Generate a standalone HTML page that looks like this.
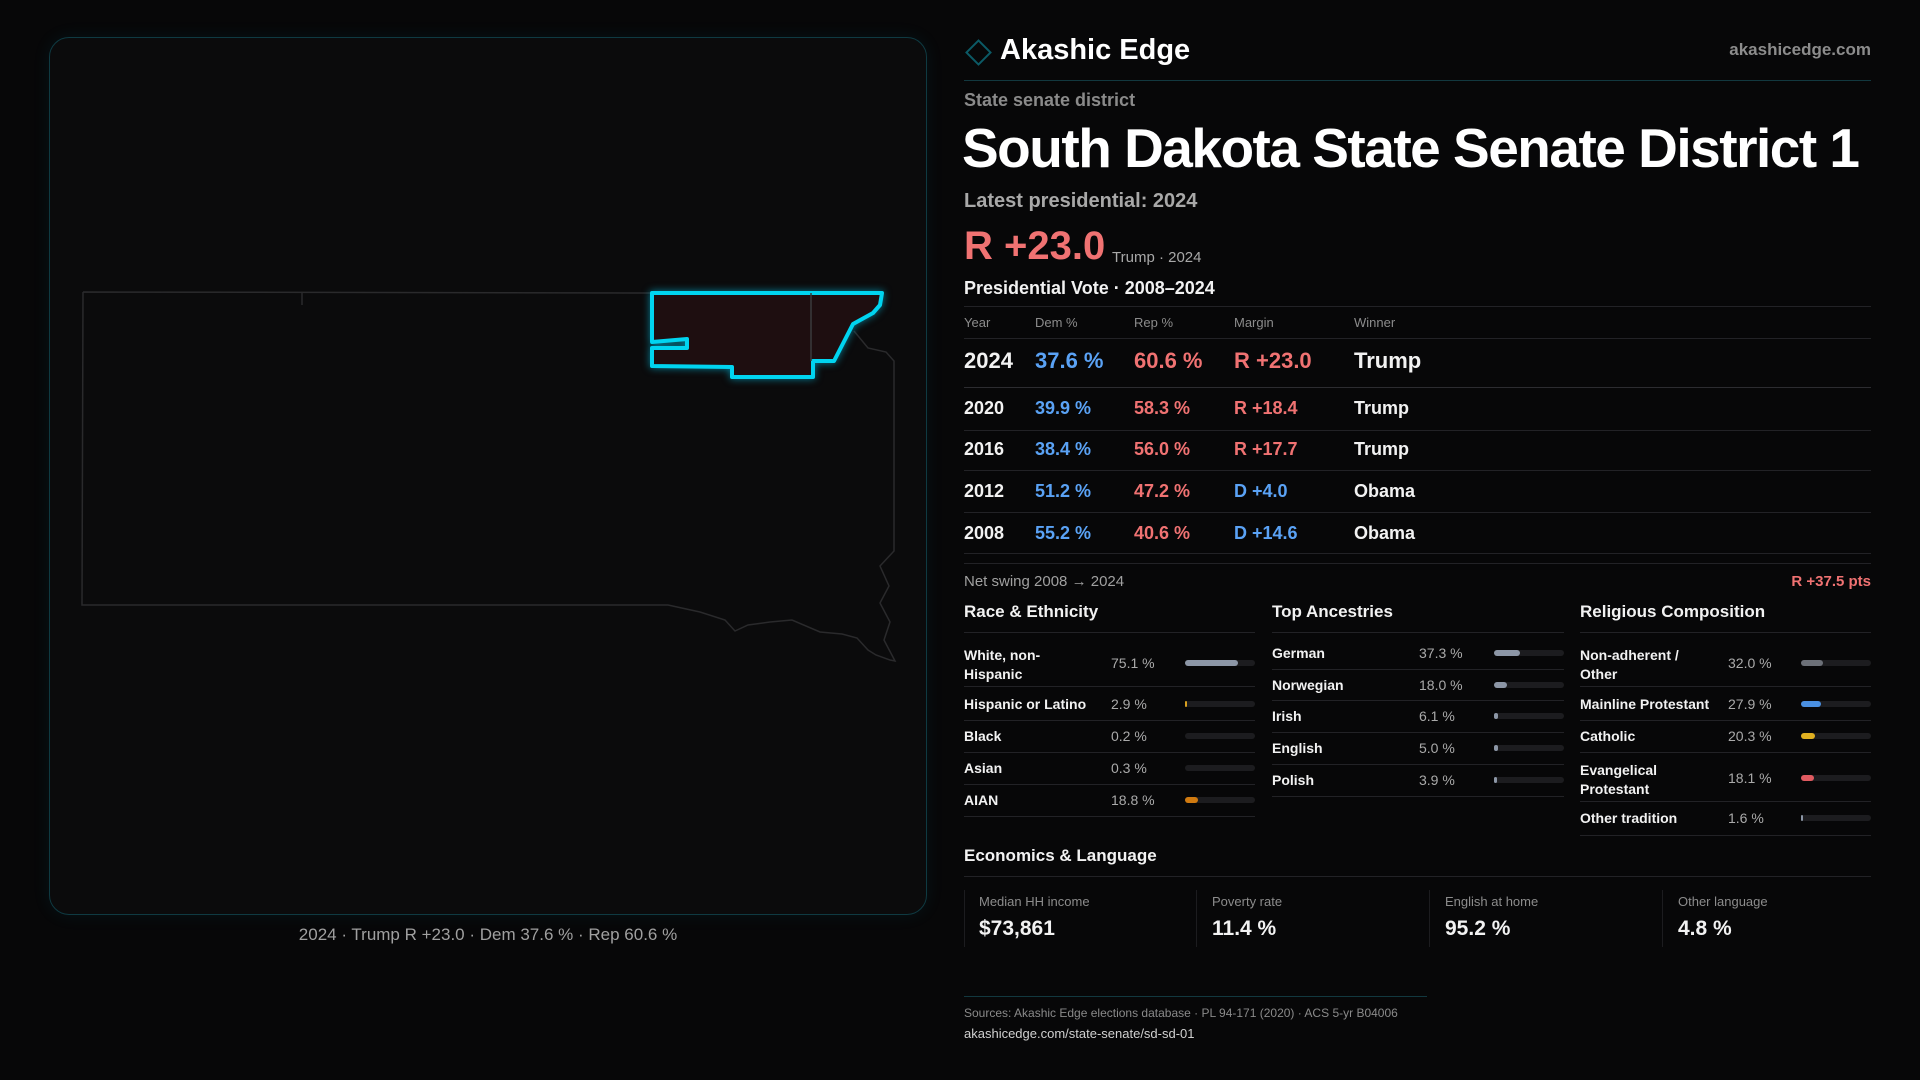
<!DOCTYPE html>
<html><head><meta charset="utf-8">
<style>
*{margin:0;padding:0;box-sizing:border-box}
body{width:1920px;height:1080px;background:#070708;font-family:"Liberation Sans",sans-serif;color:#f2f2f2;position:relative;overflow:hidden}
.t{position:absolute;white-space:nowrap;line-height:1}
.g{color:#8c8c8c}
.b{font-weight:bold}
.red{color:#f07272}
.blue{color:#5aa2f5}
.hl{position:absolute;height:1px;background:#222226}
.bar{position:absolute;height:6px;border-radius:3px;background:#1c1c1f}
.bar i{display:block;height:6px;border-radius:3px}
</style></head><body>
<div style="position:absolute;left:49px;top:37px;width:878px;height:878px;border:1px solid #0f3a42;border-radius:20px;background:#0b0b0c;box-shadow:0 0 18px rgba(0,180,220,0.08)"></div>
<svg style="position:absolute;left:0;top:0" width="960" height="940">
<path d="M83,292 L652,293 M302,293 L302,305 M83,292 L82,605 L668,605 L700,612 L725,620 L735,631 L748,625 L770,622 L792,620 L820,632 L842,634 L857,638 L868,650 L876,655 L890,660 L895,661 L884,640 L890,622 L880,603 L889,586 L880,566 L894,551 L894,361 L886,352 L868,348 L854,331" fill="none" stroke="#2a2a2c" stroke-width="1.5"/>
<path d="M652,293 L882,293 L880,305 L873,313 L853,324 L834,361 L813,361 L813,377 L732,377 L732,367 L652,366 L652,348 L687,348 L687,339 L652,342 Z" fill="#1e0e10" stroke="#00d4f0" stroke-width="4" stroke-linejoin="round" style="filter:drop-shadow(0 0 4px rgba(0,200,240,0.6))"/>
<path d="M811,293 L811,361" stroke="#3a3a3c" stroke-width="1.5"/>
</svg>
<div class="t g" style="left:0;width:976px;text-align:center;top:926px;font-size:17px;color:#a0a0a0">2024 · Trump R +23.0 · Dem 37.6 % · Rep 60.6 %</div>

<div style="position:absolute;left:969px;top:43px;width:19px;height:19px;border:2px solid #0c5a66;transform:rotate(45deg)"></div>
<div class="t b" style="left:1000px;top:36px;font-size:29px;color:#fff">Akashic Edge</div>
<div class="t g b" style="right:49px;top:41px;font-size:17px">akashicedge.com</div>
<div class="hl" style="left:964px;width:907px;top:80px;background:#12383f"></div>
<div class="t g b" style="left:964px;top:91px;font-size:18px;color:#8a8a8a">State senate district</div>
<div class="t b" style="left:962px;top:121px;font-size:55px;color:#fff;letter-spacing:-1.5px">South Dakota State Senate District 1</div>
<div class="t b" style="left:964px;top:191px;font-size:20px;color:#a8a8a8">Latest presidential: 2024</div>
<div class="t b red" style="left:964px;top:226px;font-size:40px">R +23.0</div>
<div class="t" style="left:1112px;top:250px;font-size:15px;color:#a8a8a8">Trump · 2024</div>
<div class="t b" style="left:964px;top:279px;font-size:18px">Presidential Vote · 2008–2024</div>
<div class="hl" style="left:964px;width:907px;top:306px"></div>
<div class="t g" style="left:964px;top:316px;font-size:13px">Year</div>
<div class="t g" style="left:1035px;top:316px;font-size:13px">Dem %</div>
<div class="t g" style="left:1134px;top:316px;font-size:13px">Rep %</div>
<div class="t g" style="left:1234px;top:316px;font-size:13px">Margin</div>
<div class="t g" style="left:1354px;top:316px;font-size:13px">Winner</div>
<div class="hl" style="left:964px;width:907px;top:338px"></div>
<div class="t b" style="left:964px;top:350px;font-size:22px">2024</div>
<div class="t b blue" style="left:1035px;top:350px;font-size:22px">37.6 %</div>
<div class="t b red" style="left:1134px;top:350px;font-size:22px">60.6 %</div>
<div class="t b red" style="left:1234px;top:350px;font-size:22px">R +23.0</div>
<div class="t b" style="left:1354px;top:350px;font-size:22px">Trump</div>
<div class="hl" style="left:964px;width:907px;top:387px;background:#2c2c30"></div>
<div class="t b" style="left:964px;top:399px;font-size:18px">2020</div>
<div class="t b blue" style="left:1035px;top:399px;font-size:18px">39.9 %</div>
<div class="t b red" style="left:1134px;top:399px;font-size:18px">58.3 %</div>
<div class="t b red" style="left:1234px;top:399px;font-size:18px">R +18.4</div>
<div class="t b" style="left:1354px;top:399px;font-size:18px">Trump</div>
<div class="hl" style="left:964px;width:907px;top:430px"></div>
<div class="t b" style="left:964px;top:440px;font-size:18px">2016</div>
<div class="t b blue" style="left:1035px;top:440px;font-size:18px">38.4 %</div>
<div class="t b red" style="left:1134px;top:440px;font-size:18px">56.0 %</div>
<div class="t b red" style="left:1234px;top:440px;font-size:18px">R +17.7</div>
<div class="t b" style="left:1354px;top:440px;font-size:18px">Trump</div>
<div class="hl" style="left:964px;width:907px;top:470px"></div>
<div class="t b" style="left:964px;top:482px;font-size:18px">2012</div>
<div class="t b blue" style="left:1035px;top:482px;font-size:18px">51.2 %</div>
<div class="t b red" style="left:1134px;top:482px;font-size:18px">47.2 %</div>
<div class="t b blue" style="left:1234px;top:482px;font-size:18px">D +4.0</div>
<div class="t b" style="left:1354px;top:482px;font-size:18px">Obama</div>
<div class="hl" style="left:964px;width:907px;top:512px"></div>
<div class="t b" style="left:964px;top:524px;font-size:18px">2008</div>
<div class="t b blue" style="left:1035px;top:524px;font-size:18px">55.2 %</div>
<div class="t b red" style="left:1134px;top:524px;font-size:18px">40.6 %</div>
<div class="t b blue" style="left:1234px;top:524px;font-size:18px">D +14.6</div>
<div class="t b" style="left:1354px;top:524px;font-size:18px">Obama</div>
<div class="hl" style="left:964px;width:907px;top:553px"></div>
<div class="hl" style="left:964px;width:907px;top:563px"></div>
<div class="t" style="left:964px;top:574px;font-size:15px;color:#a0a0a0">Net swing 2008 → 2024</div>
<div class="t b red" style="right:49px;top:574px;font-size:15px">R +37.5 pts</div>

<div class="t b" style="left:964px;top:603px;font-size:17px">Race &amp; Ethnicity</div>
<div class="t b" style="left:1272px;top:603px;font-size:17px">Top Ancestries</div>
<div class="t b" style="left:1580px;top:603px;font-size:17px">Religious Composition</div>
<div class="hl" style="left:964px;width:291px;top:632px"></div>
<div class="hl" style="left:1272px;width:292px;top:632px"></div>
<div class="hl" style="left:1580px;width:291px;top:632px"></div>

<!-- Race -->
<div class="t b" style="left:964px;top:646px;font-size:14px;line-height:19px">White, non-<br>Hispanic</div>
<div class="t" style="left:1111px;top:656px;font-size:14px;color:#aaa">75.1 %</div>
<div class="bar" style="left:1185px;top:660px;width:70px"><i style="width:76%;background:#8c96a6"></i></div>
<div class="hl" style="left:964px;width:291px;top:686px"></div>
<div class="t b" style="left:964px;top:697px;font-size:14px">Hispanic or Latino</div>
<div class="t" style="left:1111px;top:697px;font-size:14px;color:#aaa">2.9 %</div>
<div class="bar" style="left:1185px;top:701px;width:70px"><i style="width:2px;background:#d8a020"></i></div>
<div class="hl" style="left:964px;width:291px;top:720px"></div>
<div class="t b" style="left:964px;top:729px;font-size:14px">Black</div>
<div class="t" style="left:1111px;top:729px;font-size:14px;color:#aaa">0.2 %</div>
<div class="bar" style="left:1185px;top:733px;width:70px"></div>
<div class="hl" style="left:964px;width:291px;top:752px"></div>
<div class="t b" style="left:964px;top:761px;font-size:14px">Asian</div>
<div class="t" style="left:1111px;top:761px;font-size:14px;color:#aaa">0.3 %</div>
<div class="bar" style="left:1185px;top:765px;width:70px"></div>
<div class="hl" style="left:964px;width:291px;top:784px"></div>
<div class="t b" style="left:964px;top:793px;font-size:14px">AIAN</div>
<div class="t" style="left:1111px;top:793px;font-size:14px;color:#aaa">18.8 %</div>
<div class="bar" style="left:1185px;top:797px;width:70px"><i style="width:19%;background:#d07a10"></i></div>
<div class="hl" style="left:964px;width:291px;top:816px"></div>

<!-- Ancestry -->
<div class="t b" style="left:1272px;top:646px;font-size:14px">German</div>
<div class="t" style="left:1419px;top:646px;font-size:14px;color:#aaa">37.3 %</div>
<div class="bar" style="left:1494px;top:650px;width:70px"><i style="width:37%;background:#8c96a6"></i></div>
<div class="hl" style="left:1272px;width:292px;top:669px"></div>
<div class="t b" style="left:1272px;top:678px;font-size:14px">Norwegian</div>
<div class="t" style="left:1419px;top:678px;font-size:14px;color:#aaa">18.0 %</div>
<div class="bar" style="left:1494px;top:682px;width:70px"><i style="width:18%;background:#8c96a6"></i></div>
<div class="hl" style="left:1272px;width:292px;top:700px"></div>
<div class="t b" style="left:1272px;top:709px;font-size:14px">Irish</div>
<div class="t" style="left:1419px;top:709px;font-size:14px;color:#aaa">6.1 %</div>
<div class="bar" style="left:1494px;top:713px;width:70px"><i style="width:4px;background:#8c96a6"></i></div>
<div class="hl" style="left:1272px;width:292px;top:732px"></div>
<div class="t b" style="left:1272px;top:741px;font-size:14px">English</div>
<div class="t" style="left:1419px;top:741px;font-size:14px;color:#aaa">5.0 %</div>
<div class="bar" style="left:1494px;top:745px;width:70px"><i style="width:4px;background:#8c96a6"></i></div>
<div class="hl" style="left:1272px;width:292px;top:764px"></div>
<div class="t b" style="left:1272px;top:773px;font-size:14px">Polish</div>
<div class="t" style="left:1419px;top:773px;font-size:14px;color:#aaa">3.9 %</div>
<div class="bar" style="left:1494px;top:777px;width:70px"><i style="width:3px;background:#8c96a6"></i></div>
<div class="hl" style="left:1272px;width:292px;top:796px"></div>

<!-- Religion -->
<div class="t b" style="left:1580px;top:646px;font-size:14px;line-height:19px">Non-adherent /<br>Other</div>
<div class="t" style="left:1728px;top:656px;font-size:14px;color:#aaa">32.0 %</div>
<div class="bar" style="left:1801px;top:660px;width:70px"><i style="width:32%;background:#6c7078"></i></div>
<div class="hl" style="left:1580px;width:291px;top:686px"></div>
<div class="t b" style="left:1580px;top:697px;font-size:14px">Mainline Protestant</div>
<div class="t" style="left:1728px;top:697px;font-size:14px;color:#aaa">27.9 %</div>
<div class="bar" style="left:1801px;top:701px;width:70px"><i style="width:28%;background:#4a90e2"></i></div>
<div class="hl" style="left:1580px;width:291px;top:720px"></div>
<div class="t b" style="left:1580px;top:729px;font-size:14px">Catholic</div>
<div class="t" style="left:1728px;top:729px;font-size:14px;color:#aaa">20.3 %</div>
<div class="bar" style="left:1801px;top:733px;width:70px"><i style="width:20%;background:#e0b020"></i></div>
<div class="hl" style="left:1580px;width:291px;top:752px"></div>
<div class="t b" style="left:1580px;top:761px;font-size:14px;line-height:19px">Evangelical<br>Protestant</div>
<div class="t" style="left:1728px;top:771px;font-size:14px;color:#aaa">18.1 %</div>
<div class="bar" style="left:1801px;top:775px;width:70px"><i style="width:18%;background:#e05a60"></i></div>
<div class="hl" style="left:1580px;width:291px;top:801px"></div>
<div class="t b" style="left:1580px;top:811px;font-size:14px">Other tradition</div>
<div class="t" style="left:1728px;top:811px;font-size:14px;color:#aaa">1.6 %</div>
<div class="bar" style="left:1801px;top:815px;width:70px"><i style="width:2px;background:#8c96a6"></i></div>
<div class="hl" style="left:1580px;width:291px;top:835px"></div>

<div class="t b" style="left:964px;top:847px;font-size:17px">Economics &amp; Language</div>
<div class="hl" style="left:964px;width:907px;top:876px"></div>
<div style="position:absolute;left:964px;top:890px;width:1px;height:57px;background:#1c1c1f"></div>
<div style="position:absolute;left:1196px;top:890px;width:1px;height:57px;background:#1c1c1f"></div>
<div style="position:absolute;left:1429px;top:890px;width:1px;height:57px;background:#1c1c1f"></div>
<div style="position:absolute;left:1662px;top:890px;width:1px;height:57px;background:#1c1c1f"></div>
<div class="t" style="left:979px;top:895px;font-size:13px;color:#8c8c8c">Median HH income</div>
<div class="t b" style="left:979px;top:918px;font-size:21px">$73,861</div>
<div class="t" style="left:1212px;top:895px;font-size:13px;color:#8c8c8c">Poverty rate</div>
<div class="t b" style="left:1212px;top:918px;font-size:21px">11.4 %</div>
<div class="t" style="left:1445px;top:895px;font-size:13px;color:#8c8c8c">English at home</div>
<div class="t b" style="left:1445px;top:918px;font-size:21px">95.2 %</div>
<div class="t" style="left:1678px;top:895px;font-size:13px;color:#8c8c8c">Other language</div>
<div class="t b" style="left:1678px;top:918px;font-size:21px">4.8 %</div>

<div class="hl" style="left:964px;width:463px;top:996px;background:#12383f"></div>
<div class="t" style="left:964px;top:1007px;font-size:12px;color:#8a8a8a">Sources: Akashic Edge elections database · PL 94-171 (2020) · ACS 5-yr B04006</div>
<div class="t" style="left:964px;top:1027px;font-size:13px;color:#d0d0d0">akashicedge.com/state-senate/sd-sd-01</div>
</body></html>
